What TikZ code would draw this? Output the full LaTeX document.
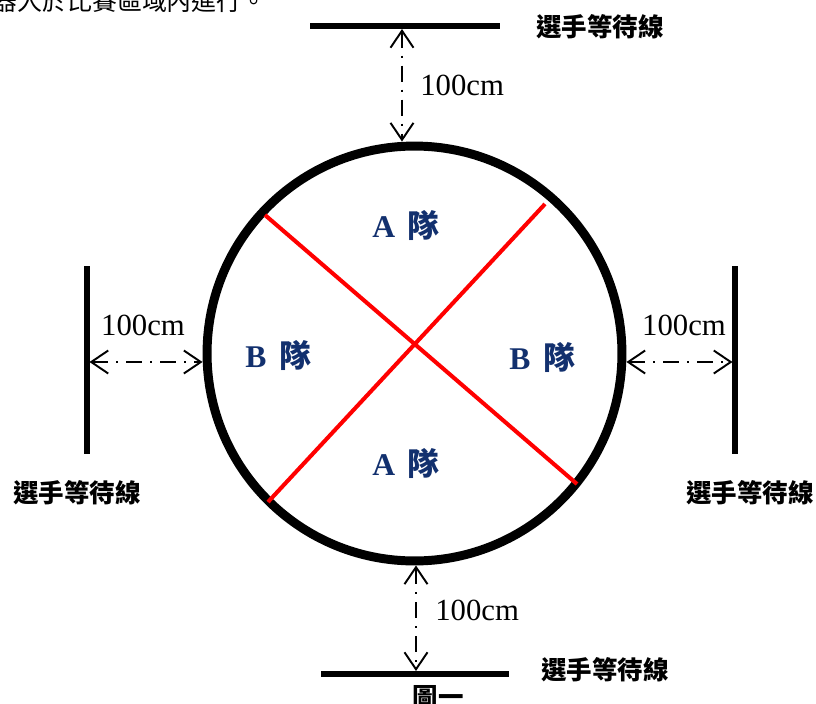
\documentclass[tikz,border=0pt]{standalone}
\usepackage{fontspec}
\setmainfont{Liberation Serif}
\newfontfamily\cjk{Noto Sans CJK TC}
\usetikzlibrary{arrows.meta}
\definecolor{teamblue}{HTML}{12306E}
\definecolor{crossred}{HTML}{FF0000}

\begin{document}
\begin{tikzpicture}[x=0.02cm, y=-0.02cm,
        waitline/.style={line width=3pt},
        crossline/.style={draw=crossred, line width=2.3pt},
        gap/.style={line width=1.1pt,
            dash pattern=on 0.32cm off 0.16cm on 0.04cm off 0.16cm,
            {Straight Barb[length=0.34cm,width=0.46cm]}-{Straight Barb[length=0.34cm,width=0.46cm]}},
        team/.style={text=teamblue, font=\fontsize{18}{20}\selectfont\bfseries},
        dist/.style={font=\fontsize{17.5}{20}\selectfont, inner sep=0pt},
        wlabel/.style={font=\cjk\bfseries\fontsize{14.5}{17}\selectfont, inner sep=0pt}]
    \useasboundingbox (0,0) rectangle (816,704);

    \node[anchor=base west, inner sep=0pt, font=\cjk\fontsize{14.2}{17}\selectfont]
        (intro) at (-8,10) {器人於比賽區域內進行。};

    \node[draw, circle, line width=5.1pt, minimum size=8.3cm, inner sep=0pt]
        (court) at (414.5,353.5) {};

    \coordinate (ul) at (265,215);
    \coordinate (lr) at (577,484);
    \coordinate (ur) at (545,204);
    \coordinate (ll) at (268,502);
    \draw[crossline] (ul) -- (lr);
    \draw[crossline] (ur) -- (ll);

    \node[team] (teamAtop) at (406,225) {A\hspace{0.4em}{\cjk\bfseries 隊}};
    \node[team] (teamAbot) at (406,463) {A\hspace{0.4em}{\cjk\bfseries 隊}};
    \node[team] (teamBleft) at (278,355) {B\hspace{0.4em}{\cjk\bfseries 隊}};
    \node[team] (teamBright) at (542,357) {B\hspace{0.4em}{\cjk\bfseries 隊}};

    % waiting lines
    \coordinate (topL) at (310,26);
    \coordinate (topR) at (500,26);
    \coordinate (botL) at (321,674);
    \coordinate (botR) at (509,674);
    \coordinate (leftT) at (87,266);
    \coordinate (leftB) at (87,454);
    \coordinate (rightT) at (735,266);
    \coordinate (rightB) at (735,454);
    \draw[waitline] (topL) -- (topR);
    \draw[waitline] (botL) -- (botR);
    \draw[waitline] (leftT) -- (leftB);
    \draw[waitline] (rightT) -- (rightB);

    % gaps of 100cm
    \coordinate (topgap) at (402,29);
    \coordinate (botgap) at (416,671);
    \coordinate (leftgap) at (89.5,362);
    \coordinate (rightgap) at (732.5,362);
    \draw[gap] (topgap) -- (topgap |- court.north);
    \draw[gap] (court.south -| botgap) -- (botgap);
    \draw[gap] (leftgap) -- (leftgap -| court.west);
    \draw[gap] (rightgap -| court.east) -- (rightgap);

    \node[dist, anchor=west] (disttop) at (420,85) {100cm};
    \node[dist] (distleft) at (143,325) {100cm};
    \node[dist] (distright) at (684,325) {100cm};
    \node[dist, anchor=west] (distbot) at (435,610) {100cm};

    \node[wlabel] (waittop) at (600,27) {選手等待線};
    \node[wlabel] (waitleft) at (77,493) {選手等待線};
    \node[wlabel] (waitright) at (750,493) {選手等待線};
    \node[wlabel] (waitbot) at (605,670) {選手等待線};

    \node[wlabel] (caption) at (438,697) {圖一};
\end{tikzpicture}
\end{document}
